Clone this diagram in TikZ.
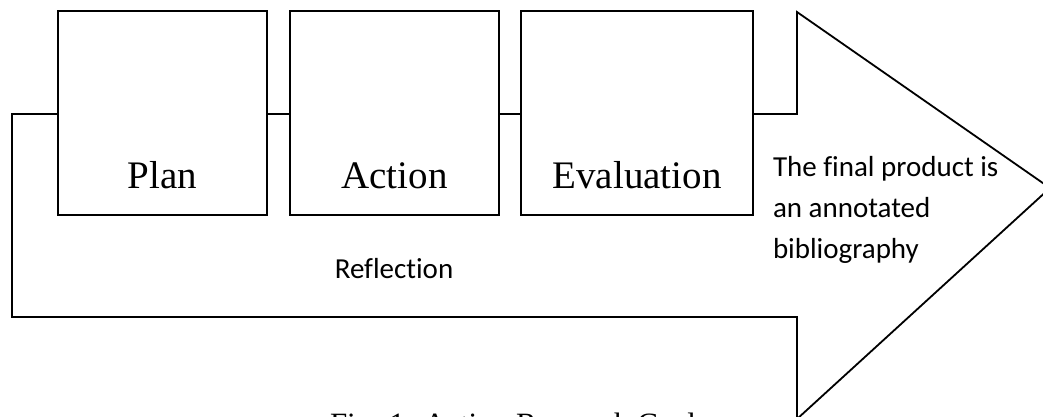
\documentclass[tikz,border=0pt]{standalone}
\usepackage{fontspec}
\setmainfont{Liberation Serif}
\newfontfamily\carlito[Ligatures=NoCommon]{Carlito}
\newlength{\du}
\setlength{\du}{1pt}
\tikzset{
  stagebox/.style={draw=black, fill=white, line width=1.6\du, minimum height=204\du, inner sep=0pt, outer sep=0pt},
  stagetext/.style={anchor=base, inner sep=0pt, outer sep=0pt, font=\fontsize{39}{39}\selectfont},
  notetext/.style={inner sep=0pt, outer sep=0pt, font=\carlito\fontsize{29}{41}\selectfont},
}

\begin{document}
\begin{tikzpicture}[even odd rule]
\pgftransformxscale{1.000000}
\pgftransformyscale{-1.000000}
\useasboundingbox (0\du,0\du) rectangle (1043\du,416\du);
% cycle arrow
\coordinate (cornerTL) at (12\du,114\du);
\coordinate (neckT) at (797\du,114\du);
\coordinate (headT) at (797\du,12\du);
\coordinate (tip) at (1050\du,188\du);
\coordinate (headB) at (797\du,419\du);
\coordinate (neckB) at (797\du,317\du);
\coordinate (cornerBL) at (12\du,317\du);
\draw[line width=1.8\du, line join=miter] (cornerTL)--(neckT)--(headT)--(tip)--(headB)--(neckB)--(cornerBL)--cycle;
% stages
\node[stagebox, minimum width=209\du] (plan) at (162.5\du,113\du) {};
\node[stagebox, minimum width=209\du] (action) at (394.5\du,113\du) {};
\node[stagebox, minimum width=232\du] (evaluation) at (637\du,113\du) {};
\node[stagetext] (plantext) at (162.5\du,188\du) {Plan};
\node[stagetext] (actiontext) at (394.5\du,188\du) {Action};
\node[stagetext] (evaluationtext) at (637\du,188\du) {Evaluation};
% notes (base of a multi-line node is its last line)
\node[notetext, anchor=base] (reflection) at (394\du,278\du) {Reflection};
\node[notetext, anchor=base west, align=left] (product) at (773\du,258\du) {The final product is\\an annotated\\bibliography};
\node[anchor=base west, inner sep=0pt, outer sep=0pt, font=\fontsize{31}{31}\selectfont] (caption) at (330\du,434\du) {Fig. 1: Action Research Cycle};
\end{tikzpicture}
\end{document}
